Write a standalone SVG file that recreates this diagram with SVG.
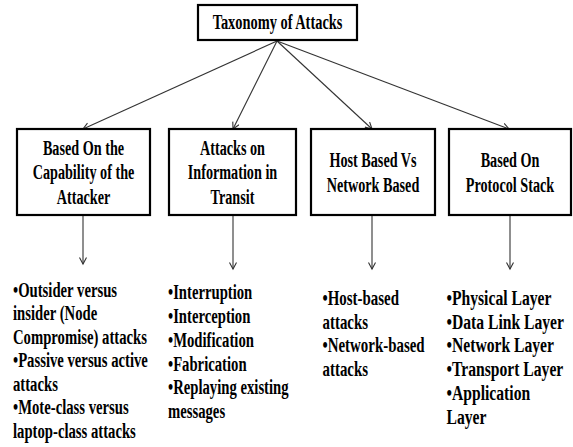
<svg xmlns="http://www.w3.org/2000/svg" width="573" height="447" viewBox="0 0 573 447">
<style>
.box{fill:#fff;stroke:#000;stroke-width:2.2}
.t{font-family:"Liberation Serif","Times New Roman",serif;font-weight:bold;font-size:20px;fill:#000}
.l{font-size:21px}
.c{text-anchor:middle}
.conn{stroke:#333;stroke-width:1.1;fill:none;marker-end:url(#ah)}
</style>
<defs>
<marker id="ah" markerUnits="userSpaceOnUse" markerWidth="10" markerHeight="10" refX="7" refY="4" orient="auto">
<path d="M0.5,0.5 L7,4 L0.5,7.5" fill="none" stroke="#333" stroke-width="1.1"/>
</marker>
</defs>
<rect width="573" height="447" fill="#fff"/>
<g id="connectors">
<line class="conn" x1="277" y1="41" x2="83" y2="129"/>
<line class="conn" x1="277" y1="41" x2="233" y2="129"/>
<line class="conn" x1="277" y1="41" x2="372" y2="129"/>
<line class="conn" x1="277" y1="41" x2="509" y2="129"/>
<line class="conn" x1="83" y1="215" x2="83" y2="264"/>
<line class="conn" x1="233" y1="215" x2="233" y2="269"/>
<line class="conn" x1="372" y1="215" x2="372" y2="269"/>
<line class="conn" x1="510" y1="215" x2="510" y2="269"/>
</g>
<g id="root">
<rect class="box" x="198" y="5" width="159" height="35"/>
<g transform="translate(277.5,0) scale(0.72,1)"><text class="t c" x="0" y="29.5">Taxonomy of Attacks</text></g>
</g>
<g id="capability">
<rect class="box" x="17" y="129" width="133" height="86"/>
<g transform="translate(83.5,0) scale(0.71,1)">
<text class="t c" x="0" y="155">Based On the</text>
<text class="t c" x="0" y="179.5">Capability of the</text>
<text class="t c" x="0" y="204">Attacker</text>
</g>
</g>
<g id="transit">
<rect class="box" x="169" y="129" width="127" height="86"/>
<g transform="translate(232.5,0) scale(0.71,1)">
<text class="t c" x="0" y="155">Attacks on</text>
<text class="t c" x="0" y="179.5">Information in</text>
<text class="t c" x="0" y="204">Transit</text>
</g>
</g>
<g id="hostnet">
<rect class="box" x="311" y="129" width="124" height="86"/>
<g transform="translate(373,0) scale(0.71,1)">
<text class="t c" x="0" y="167">Host Based Vs</text>
<text class="t c" x="0" y="192">Network Based</text>
</g>
</g>
<g id="protocol">
<rect class="box" x="449" y="129" width="122" height="86"/>
<g transform="translate(510,0) scale(0.71,1)">
<text class="t c" x="0" y="167">Based On</text>
<text class="t c" x="0" y="192">Protocol Stack</text>
</g>
</g>
<g id="list-capability" transform="translate(13,0) scale(0.70,1)">
<text class="t l" x="0" y="297">•Outsider versus</text>
<text class="t l" x="0" y="320.5">insider (Node</text>
<text class="t l" x="0" y="344">Compromise) attacks</text>
<text class="t l" x="0" y="367.5">•Passive versus active</text>
<text class="t l" x="0" y="391">attacks</text>
<text class="t l" x="0" y="414.5">•Mote-class versus</text>
<text class="t l" x="0" y="438">laptop-class attacks</text>
</g>
<g id="list-transit" transform="translate(168,0) scale(0.70,1)">
<text class="t l" x="0" y="299.5">•Interruption</text>
<text class="t l" x="0" y="323.3">•Interception</text>
<text class="t l" x="0" y="347">•Modification</text>
<text class="t l" x="0" y="370.8">•Fabrication</text>
<text class="t l" x="0" y="394.5">•Replaying existing</text>
<text class="t l" x="0" y="418.3">messages</text>
</g>
<g id="list-hostnet" transform="translate(322.5,0) scale(0.71,1)">
<text class="t l" x="0" y="305">•Host-based</text>
<text class="t l" x="0" y="328.8">attacks</text>
<text class="t l" x="0" y="352.5">•Network-based</text>
<text class="t l" x="0" y="376.3">attacks</text>
</g>
<g id="list-protocol" transform="translate(446.5,0) scale(0.745,1)">
<text class="t l" x="0" y="305">•Physical Layer</text>
<text class="t l" x="0" y="328.8">•Data Link Layer</text>
<text class="t l" x="0" y="352.5">•Network Layer</text>
<text class="t l" x="0" y="376.3">•Transport Layer</text>
<text class="t l" x="0" y="400">•Application</text>
<text class="t l" x="0" y="423.8">Layer</text>
</g>
</svg>
